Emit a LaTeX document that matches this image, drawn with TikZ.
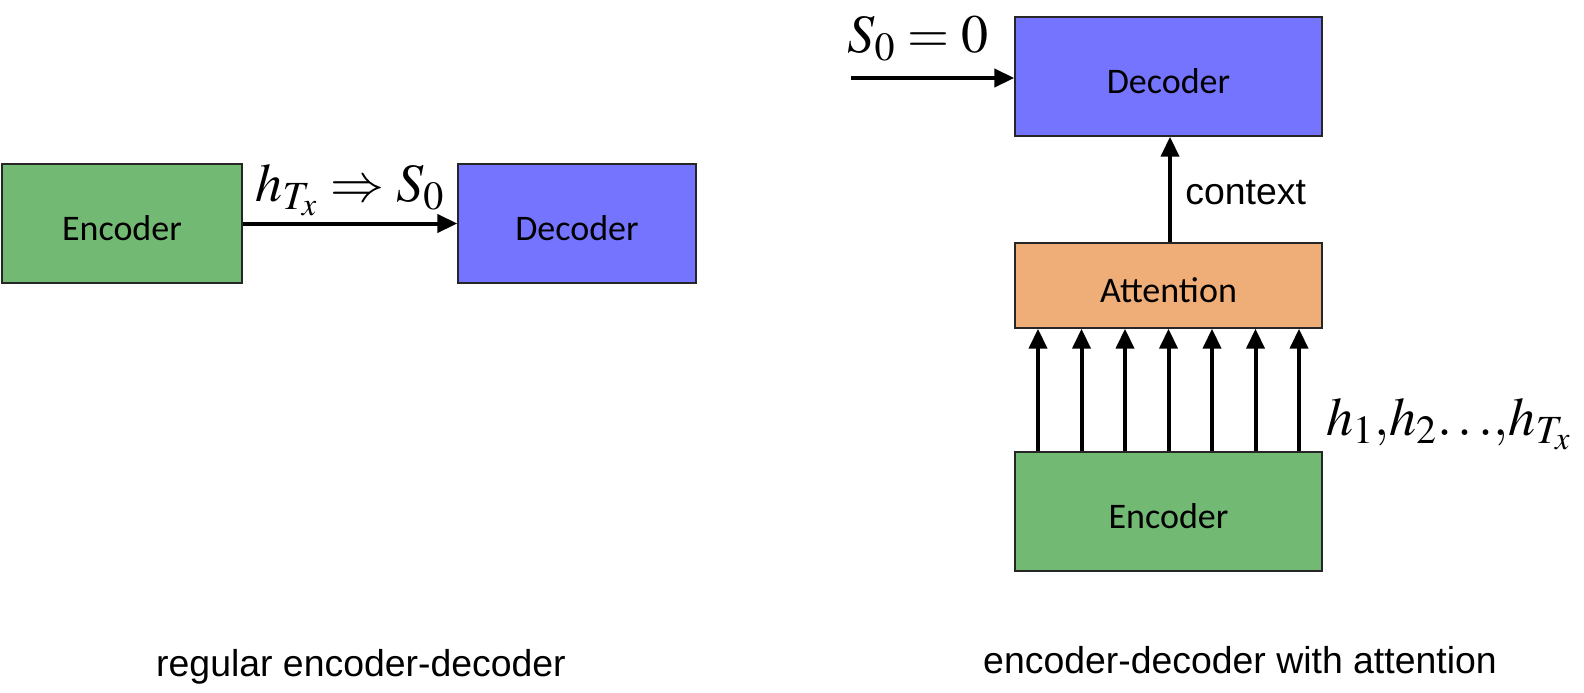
\documentclass[tikz,border=0pt]{standalone}
\usepackage{mathptmx}
\usepackage[no-math]{fontspec}
\setmainfont{Liberation Sans}
\newfontfamily\boxfont{Carlito}
\usepackage{tikz}
\usetikzlibrary{arrows.meta}
\definecolor{encgreen}{RGB}{114,185,116}
\definecolor{decblue}{RGB}{116,116,255}
\definecolor{attorange}{RGB}{239,173,120}
\tikzset{
  blk/.style={draw=black!85,line width=0.7pt,inner sep=0pt,
    text height=16.6pt,text depth=0pt,
    font=\boxfont\fontsize{18}{21}\selectfont},
  link/.style={-{Triangle[length=10pt,width=9pt]},line width=2pt},
  mathlbl/.style={font=\fontsize{27}{30}\selectfont,inner sep=0pt},
  caption/.style={font=\fontsize{18.7}{22}\selectfont,inner sep=0pt}
}

\begin{document}
\begin{tikzpicture}[x=0.5pt,y=-0.5pt]
  \useasboundingbox (0,0) rectangle (1584,692);
  % regular encoder-decoder
  \node[blk,fill=encgreen,minimum width=120pt,minimum height=59.5pt] (enc) at (122,223.5) {Encoder};
  \node[blk,fill=decblue,minimum width=119pt,minimum height=59.5pt] (dec) at (577,223.5) {Decoder};
  \draw[link] (enc.east) -- (dec.west);
  \node[mathlbl] (hT) at (350,190) {$h_{T_x} \Rightarrow S_0$};
  \node[caption] (cap1) at (361,667) {regular encoder-decoder};
  % encoder-decoder with attention
  \node[blk,fill=decblue,minimum width=153.5pt,minimum height=59.5pt] (dec2) at (1168.5,76.5) {Decoder};
  \node[blk,fill=attorange,minimum width=153.5pt,minimum height=42.5pt] (att) at (1168.5,285.5) {Attention};
  \node[blk,fill=encgreen,minimum width=153.5pt,minimum height=59.5pt] (enc2) at (1168.5,511.5) {Encoder};
  \coordinate (s0) at (851,78);
  \draw[link] (s0) -- (dec2.west |- s0);
  \node[mathlbl] (s0lbl) at (918,39) {$S_0 = 0$};
  \draw[link] ([xshift=0.75pt]att.north) -- ([xshift=0.75pt]dec2.south);
  \node[caption,anchor=west] (ctx) at (1185,193) {context};
  \foreach \k in {-3,...,3}
    \draw[link] ([xshift=\k*21.75pt]enc2.north) -- ([xshift=\k*21.75pt]att.south);
  \node[mathlbl,anchor=east] (hs) at (1572,424) {$h_1{,}h_2{\ldots}{,}h_{T_x}$};
  \node[caption] (cap2) at (1240,660) {encoder-decoder with attention};
\end{tikzpicture}
\end{document}
